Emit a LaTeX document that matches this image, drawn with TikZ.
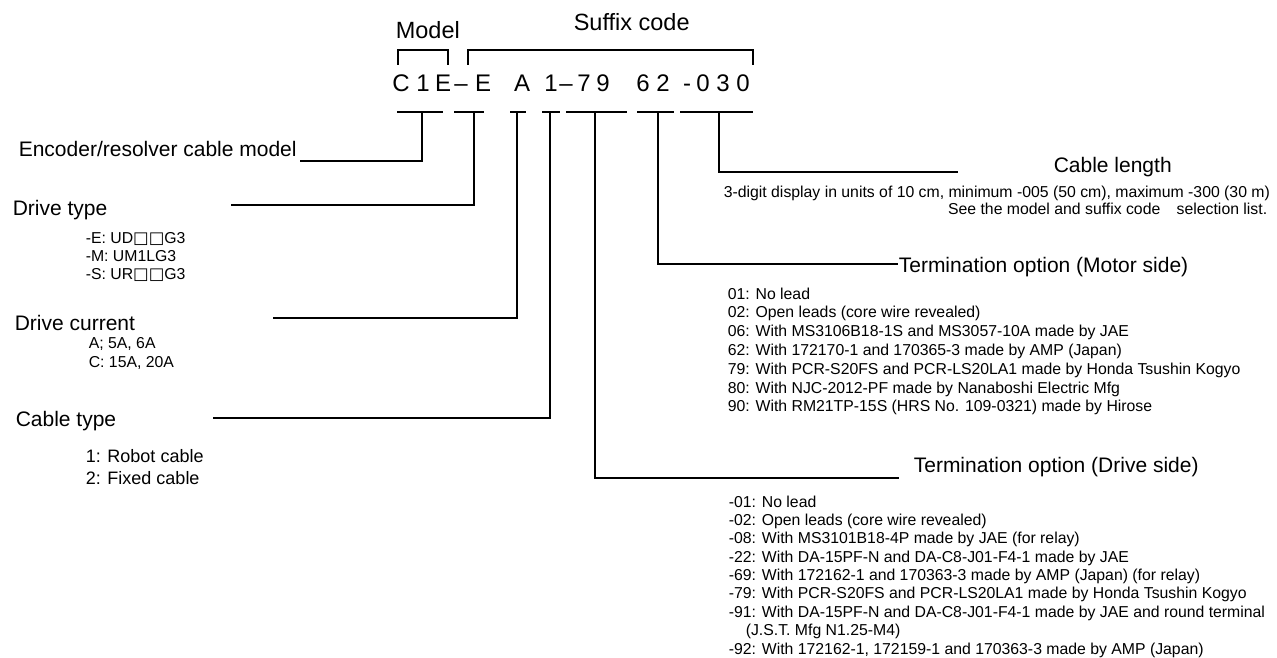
\documentclass[tikz,border=0pt]{standalone}
\usepackage{fontspec}
\setmainfont{Liberation Sans}
\newfontfamily\symf{DejaVu Sans}
\begin{document}
\begin{tikzpicture}[x=1pt,y=-1pt, line width=1.6pt,
  lbl/.style={inner sep=0pt, anchor=base west, font=\fontsize{21}{24}\selectfont},
  head/.style={inner sep=0pt, anchor=base west, font=\fontsize{23.5}{26}\selectfont},
  small/.style={inner sep=0pt, anchor=base west, font=\fontsize{15.8}{18}\selectfont},
  mid/.style={inner sep=0pt, anchor=base west, font=\fontsize{18}{20}\selectfont},
  ch/.style={inner sep=0pt, anchor=base, font=\fontsize{24}{26}\selectfont},
  lead/.style={line width=1.6pt}]
\useasboundingbox (0,0) rectangle (1277,658);
\newcommand{\sq}{{\symf\fontsize{16.5}{16.5}\selectfont □}}

% headings
\node[head] (model) at (395,38.5) {Model};
\node[head] (suffix) at (573,30.5) {Suffix code};
\coordinate (mb1) at (398,65); \coordinate (mb2) at (448,65);
\coordinate (sb1) at (468,65); \coordinate (sb2) at (753,65);
\draw[lead] (mb1) -- (398,50) -- (448,50) -- (mb2);
\draw[lead] (sb1) -- (468,50) -- (753,50) -- (sb2);

% code characters
\foreach \x/\c [count=\i] in {401/C,423/1,443/E,461/–,483/E,522/A,551/1,566/–,584/7,603/9,643/6,663/2,687/-,703/0,723/3,743/0}
  \node[ch] (c\i) at (\x,92) {\c};

% underline segments
\draw[lead] (397,112) -- (443,112);
\draw[lead] (454,112) -- (484,112);
\draw[lead] (510,112) -- (526,112);
\draw[lead] (542,112) -- (560,112);
\draw[lead] (566,112) -- (627,112);
\draw[lead] (637,112) -- (674,112);
\draw[lead] (680,112) -- (753,112);

% tick points
\coordinate (k1) at (422,112);
\coordinate (k2) at (474,112);
\coordinate (k3) at (517,112);
\coordinate (k4) at (550,112);
\coordinate (k5) at (595,112);
\coordinate (k6) at (658,112);
\coordinate (k7) at (719,112);

% left labels
\node[lbl] (enc) at (18,157) {Encoder/resolver cable model};
\coordinate (e1) at (300,161);
\draw[lead] (k1) |- (e1);

\node[lbl] (dtype) at (12,215) {Drive type};
\coordinate (e2) at (231,205);
\draw[lead] (k2) |- (e2);
\node[small] (dt1) at (85,243) {-E: UD\sq\sq G3};
\node[small] (dt2) at (85,261) {-M: UM1LG3};
\node[small] (dt3) at (85,279) {-S: UR\sq\sq G3};

\node[lbl] (dcur) at (14,330) {Drive current};
\coordinate (e3) at (273,318);
\draw[lead] (k3) |- (e3);
\node[small] (dc1) at (88,348) {A; 5A, 6A};
\node[small] (dc2) at (88,367) {C: 15A, 20A};

\node[lbl] (ctype) at (15,426) {Cable type};
\coordinate (e4) at (213,418);
\draw[lead] (k4) |- (e4);
\node[mid] (ct1) at (85,462) {1: Robot cable};
\node[mid] (ct2) at (85,484) {2: Fixed cable};

% right labels
\node[lbl] (clen) at (1053,172) {Cable length};
\coordinate (e7) at (958,172);
\draw[lead] (k7) |- (e7);
\node[small] (cl1) at (723,197) {3-digit display in units of 10 cm, minimum -005 (50 cm), maximum -300 (30 m)};
\node[small, anchor=base east] (cl2) at (1268,214) {See the model and suffix code\hspace{12pt} selection list.};

\node[lbl] (motor) at (898,272) {Termination option (Motor side)};
\coordinate (e6) at (898,264);
\draw[lead] (k6) |- (e6);
\foreach \t [count=\i] in {01: No lead,
  02: Open leads (core wire revealed),
  06: With MS3106B18-1S and MS3057-10A made by JAE,
  62: With 172170-1 and 170365-3 made by AMP (Japan),
  79: With PCR-S20FS and PCR-LS20LA1 made by Honda Tsushin Kogyo,
  80: With NJC-2012-PF made by Nanaboshi Electric Mfg,
  90: With RM21TP-15S (HRS No. 109-0321) made by Hirose}
  \node[small] (m\i) at (727,{299+(\i-1)*18.8}) {\t};

\node[lbl] (drive) at (913,472) {Termination option (Drive side)};
\coordinate (e5) at (899,478);
\draw[lead] (k5) |- (e5);
\foreach \t [count=\i] in {-01: No lead,
  -02: Open leads (core wire revealed),
  -08: With MS3101B18-4P made by JAE (for relay),
  -22: With DA-15PF-N and DA-C8-J01-F4-1 made by JAE,
  -69: With 172162-1 and 170363-3 made by AMP (Japan) (for relay),
  -79: With PCR-S20FS and PCR-LS20LA1 made by Honda Tsushin Kogyo,
  -91: With DA-15PF-N and DA-C8-J01-F4-1 made by JAE and round terminal}
  \node[small] (d\i) at (728,{507+(\i-1)*18.375}) {\t};
\node[small] (d8) at (745,635.6) {(J.S.T. Mfg N1.25-M4)};
\node[small] (d9) at (728,654) {-92: With 172162-1, 172159-1 and 170363-3 made by AMP (Japan)};
\end{tikzpicture}
\end{document}
